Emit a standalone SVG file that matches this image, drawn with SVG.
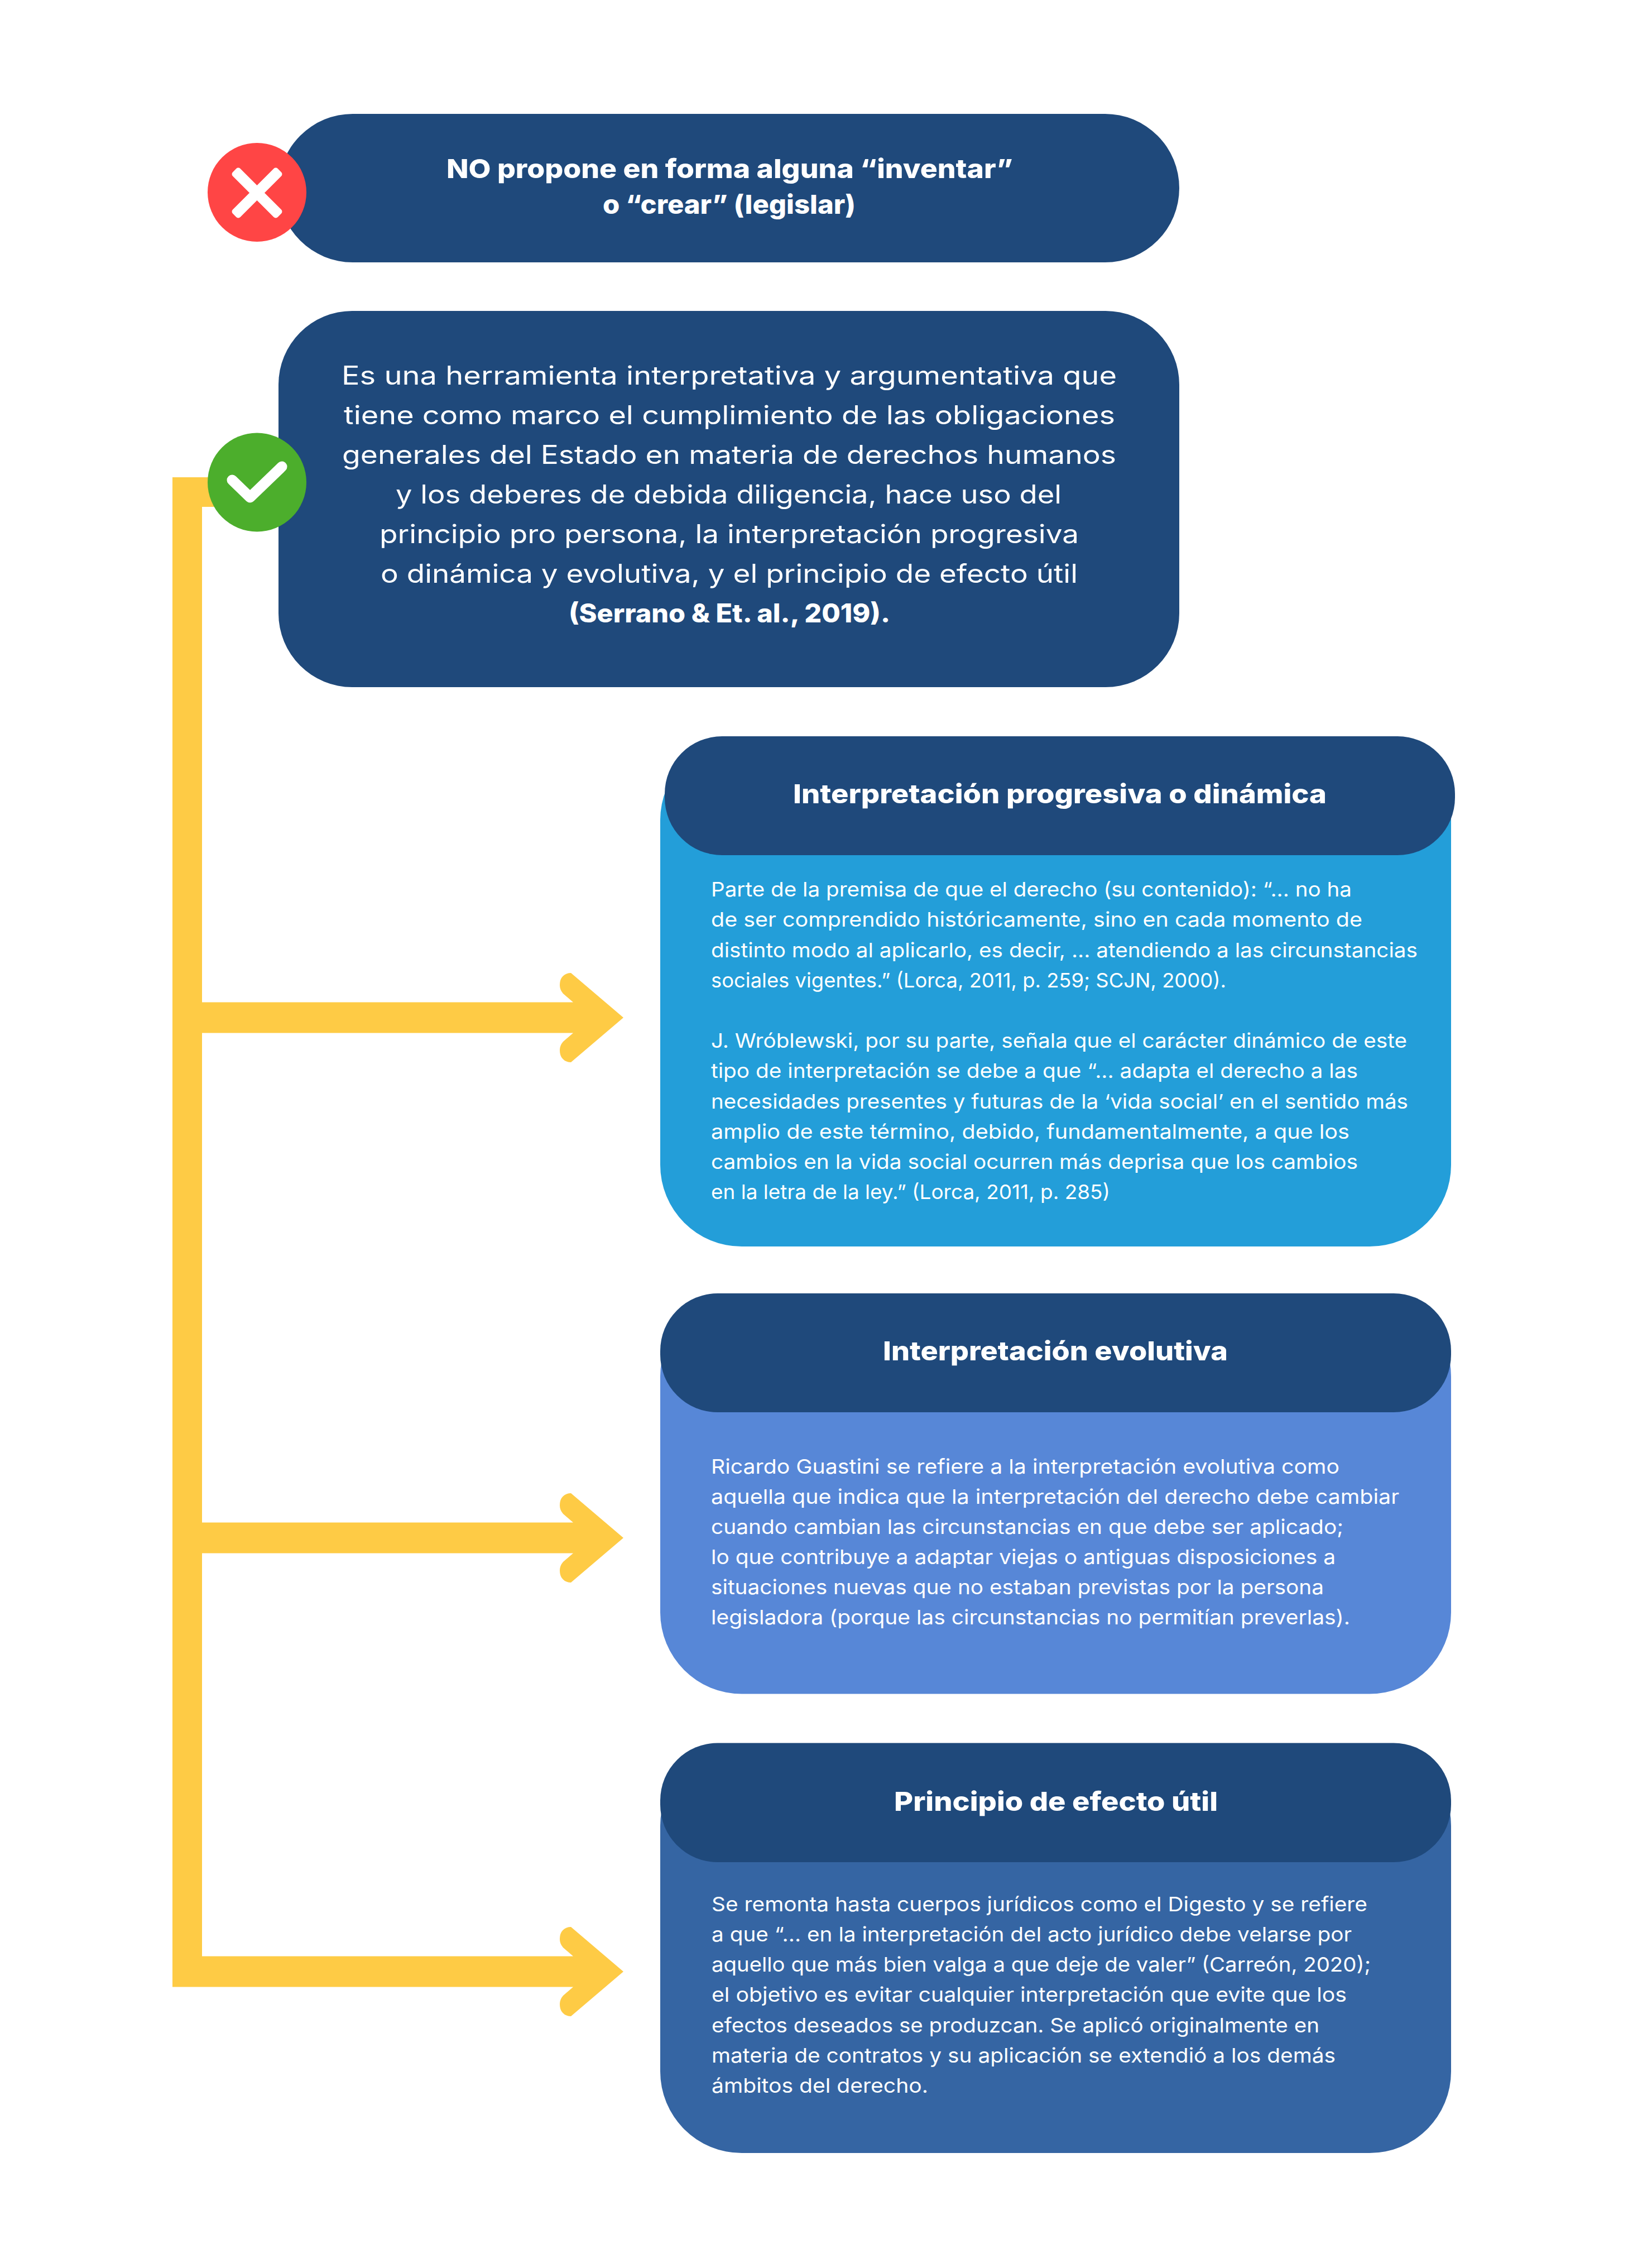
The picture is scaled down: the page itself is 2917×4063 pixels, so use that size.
<svg xmlns="http://www.w3.org/2000/svg" width="2917" height="4063" viewBox="0 0 2917 4063">
<style>
.t{font-family:"Inter","Open Sans","Liberation Sans",sans-serif;fill:#fff}
.h{font-size:47px;font-weight:800}
.m{font-size:46px;font-weight:400}
.b{font-size:36px;font-weight:400}
.dark{fill:#1f497b}
.y{fill:#fecb45}
</style>
<defs>
<path id="arrow" d="M362-27.500H1027L1009-43Q1003-50 1003-58Q1003-66 1006-71Q1012-80 1023-80L1117 0L1023 80Q1012 80 1006 71Q1003 66 1003 58Q1003 50 1009 43L1027 27.500H362Z"/>
</defs>
<rect width="2917" height="4063" fill="#fff"/>
<g id="connectors" class="y">
<path d="M309 855H470V908H362V3559.500H309Z"/>
<use href="#arrow" y="1823"/>
<use href="#arrow" y="2755"/>
<use href="#arrow" y="3532"/>
</g>
<g id="node-no">
<rect class="dark" x="499" y="204" width="1614" height="266" rx="133"/>
<text class="t h"><tspan x="800" y="319" textLength="1015" lengthAdjust="spacingAndGlyphs">NO propone en forma alguna “inventar”</tspan><tspan x="1080" y="383" textLength="453" lengthAdjust="spacingAndGlyphs">o “crear” (legislar)</tspan></text>
</g>
<g id="icon-x">
<circle cx="460.500" cy="344.500" r="88.500" fill="#ff4545"/>
<g transform="translate(460.500 345.500) rotate(45)" fill="#fff"><rect x="-57" y="-9.500" width="114" height="19" rx="5"/><rect x="-9.500" y="-57" width="19" height="114" rx="5"/></g>
</g>
<g id="node-def">
<rect class="dark" x="499" y="557" width="1614" height="674" rx="132"/>
<text class="t m">
<tspan x="612" y="689" textLength="1389" lengthAdjust="spacingAndGlyphs">Es una herramienta interpretativa y argumentativa que</tspan>
<tspan x="616" y="760" textLength="1382" lengthAdjust="spacingAndGlyphs">tiene como marco el cumplimiento de las obligaciones</tspan>
<tspan x="613" y="831" textLength="1387" lengthAdjust="spacingAndGlyphs">generales del Estado en materia de derechos humanos</tspan>
<tspan x="709" y="902" textLength="1193" lengthAdjust="spacingAndGlyphs">y los deberes de debida diligencia, hace uso del</tspan>
<tspan x="680" y="973" textLength="1253" lengthAdjust="spacingAndGlyphs">principio pro persona, la interpretación progresiva</tspan>
<tspan x="682" y="1044" textLength="1249" lengthAdjust="spacingAndGlyphs">o dinámica y evolutiva, y el principio de efecto útil</tspan>
<tspan x="1019" y="1115" textLength="576" lengthAdjust="spacingAndGlyphs" font-weight="800">(Serrano &amp; Et. al., 2019).</tspan>
</text>
</g>
<g id="icon-check">
<circle cx="460.500" cy="864" r="88.500" fill="#4cae2c"/>
<polyline points="416,860 448,891 505,836" fill="none" stroke="#fff" stroke-width="19" stroke-linecap="round" stroke-linejoin="round"/>
</g>
<g id="node-progresiva">
<rect x="1183" y="1323" width="1417" height="910" rx="146" fill="#239ed9"/>
<rect class="dark" x="1191" y="1319" width="1416" height="213" rx="103"/>
<text class="t h" x="1421" y="1439" textLength="956" lengthAdjust="spacingAndGlyphs">Interpretación progresiva o dinámica</text>
<text class="t b">
<tspan x="1274" y="1606" textLength="1148" lengthAdjust="spacingAndGlyphs">Parte de la premisa de que el derecho (su contenido): “... no ha</tspan>
<tspan x="1274" y="1660" textLength="1167" lengthAdjust="spacingAndGlyphs">de ser comprendido históricamente, sino en cada momento de</tspan>
<tspan x="1274" y="1714.500" textLength="1266" lengthAdjust="spacingAndGlyphs">distinto modo al aplicarlo, es decir, ... atendiendo a las circunstancias</tspan>
<tspan x="1274" y="1769" textLength="923" lengthAdjust="spacingAndGlyphs">sociales vigentes.” (Lorca, 2011, p. 259; SCJN, 2000).</tspan>
<tspan x="1274" y="1877" textLength="1247" lengthAdjust="spacingAndGlyphs">J. Wróblewski, por su parte, señala que el carácter dinámico de este</tspan>
<tspan x="1274" y="1931" textLength="1159" lengthAdjust="spacingAndGlyphs">tipo de interpretación se debe a que “... adapta el derecho a las</tspan>
<tspan x="1274" y="1985.500" textLength="1249" lengthAdjust="spacingAndGlyphs">necesidades presentes y futuras de la ‘vida social’ en el sentido más</tspan>
<tspan x="1274" y="2040" textLength="1144" lengthAdjust="spacingAndGlyphs">amplio de este término, debido, fundamentalmente, a que los</tspan>
<tspan x="1274" y="2094" textLength="1159" lengthAdjust="spacingAndGlyphs">cambios en la vida social ocurren más deprisa que los cambios</tspan>
<tspan x="1274" y="2148" textLength="715" lengthAdjust="spacingAndGlyphs">en la letra de la ley.” (Lorca, 2011, p. 285)</tspan>
</text>
</g>
<g id="node-evolutiva">
<rect x="1183" y="2320" width="1417" height="714.500" rx="146" fill="#5787d7"/>
<rect class="dark" x="1183" y="2317" width="1417" height="213" rx="103"/>
<text class="t h" x="1582" y="2437" textLength="618" lengthAdjust="spacingAndGlyphs">Interpretación evolutiva</text>
<text class="t b">
<tspan x="1274" y="2640" textLength="1126" lengthAdjust="spacingAndGlyphs">Ricardo Guastini se refiere a la interpretación evolutiva como</tspan>
<tspan x="1274" y="2694" textLength="1233" lengthAdjust="spacingAndGlyphs">aquella que indica que la interpretación del derecho debe cambiar</tspan>
<tspan x="1274" y="2748" textLength="1133" lengthAdjust="spacingAndGlyphs">cuando cambian las circunstancias en que debe ser aplicado;</tspan>
<tspan x="1274" y="2802" textLength="1119" lengthAdjust="spacingAndGlyphs">lo que contribuye a adaptar viejas o antiguas disposiciones a</tspan>
<tspan x="1274" y="2856" textLength="1098" lengthAdjust="spacingAndGlyphs">situaciones nuevas que no estaban previstas por la persona</tspan>
<tspan x="1274" y="2910" textLength="1145" lengthAdjust="spacingAndGlyphs">legisladora (porque las circunstancias no permitían preverlas).</tspan>
</text>
</g>
<g id="node-efecto">
<rect x="1183" y="3125" width="1417" height="732" rx="146" fill="#3565a3"/>
<rect class="dark" x="1183" y="3122.500" width="1417" height="213.500" rx="103"/>
<text class="t h" x="1602" y="3244" textLength="580" lengthAdjust="spacingAndGlyphs">Principio de efecto útil</text>
<text class="t b">
<tspan x="1275" y="3424" textLength="1175" lengthAdjust="spacingAndGlyphs">Se remonta hasta cuerpos jurídicos como el Digesto y se refiere</tspan>
<tspan x="1275" y="3478" textLength="1147" lengthAdjust="spacingAndGlyphs">a que “... en la interpretación del acto jurídico debe velarse por</tspan>
<tspan x="1275" y="3532" textLength="1181" lengthAdjust="spacingAndGlyphs">aquello que más bien valga a que deje de valer” (Carreón, 2020);</tspan>
<tspan x="1275" y="3586" textLength="1138" lengthAdjust="spacingAndGlyphs">el objetivo es evitar cualquier interpretación que evite que los</tspan>
<tspan x="1275" y="3641" textLength="1089" lengthAdjust="spacingAndGlyphs">efectos deseados se produzcan. Se aplicó originalmente en</tspan>
<tspan x="1275" y="3695" textLength="1118" lengthAdjust="spacingAndGlyphs">materia de contratos y su aplicación se extendió a los demás</tspan>
<tspan x="1275" y="3749" textLength="388" lengthAdjust="spacingAndGlyphs">ámbitos del derecho.</tspan>
</text>
</g>
</svg>
